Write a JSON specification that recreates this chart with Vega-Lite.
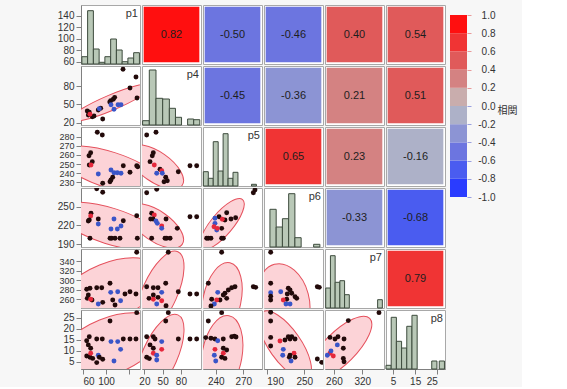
{
"$schema":"https://vega.github.io/schema/vega-lite/v6.json",
"background":"#f7f7f7",
"padding":{"left":56,"top":4,"right":5,"bottom":0},
"config":{
 "locale":{"number":{"decimal":".","thousands":",","grouping":[3],"currency":["$",""],"minus":"-"}},
 "view":{"stroke":"#a8a8a8","fill":"#ffffff"},
 "axis":{"labelFont":"Liberation Sans","labelFontSize":10,"labelColor":"#333333","tickColor":"#808080","domainColor":"#808080","grid":false,"tickSize":5,"labelPadding":2,"labelOverlap":false,"labelBound":false},
 "axisX":{"labelFlush":5}
},
"datasets":{
"corr":[{"r":"p1","c":"p4","v":0.82},{"r":"p1","c":"p5","v":-0.50},{"r":"p1","c":"p6","v":-0.46},{"r":"p1","c":"p7","v":0.40},{"r":"p1","c":"p8","v":0.54},{"r":"p4","c":"p5","v":-0.45},{"r":"p4","c":"p6","v":-0.36},{"r":"p4","c":"p7","v":0.21},{"r":"p4","c":"p8","v":0.51},{"r":"p5","c":"p6","v":0.65},{"r":"p5","c":"p7","v":0.23},{"r":"p5","c":"p8","v":-0.16},{"r":"p6","c":"p7","v":-0.33},{"r":"p6","c":"p8","v":-0.68},{"r":"p7","c":"p8","v":0.79}],
"leg":[{"lo":-1,"hi":-0.8,"m":-0.9},{"lo":-0.8,"hi":-0.6,"m":-0.7},{"lo":-0.6,"hi":-0.4,"m":-0.5},{"lo":-0.4,"hi":-0.2,"m":-0.3},{"lo":-0.2,"hi":0,"m":-0.1},{"lo":0,"hi":0.2,"m":0.1},{"lo":0.2,"hi":0.4,"m":0.3},{"lo":0.4,"hi":0.6,"m":0.5},{"lo":0.6,"hi":0.8,"m":0.7},{"lo":0.8,"hi":1,"m":0.9}],
"hist":[
{"v":"p1","b0":58,"b1":68,"n":7.3},{"v":"p1","b0":68,"b1":78,"n":53.3},{"v":"p1","b0":78,"b1":88,"n":15},{"v":"p1","b0":88,"b1":98,"n":1.7},{"v":"p1","b0":98,"b1":108,"n":7.3},{"v":"p1","b0":108,"b1":118,"n":25},{"v":"p1","b0":118,"b1":128,"n":14},{"v":"p1","b0":128,"b1":138,"n":2.3},{"v":"p1","b0":138,"b1":148,"n":6},{"v":"p1","b0":148,"b1":158,"n":11.3},
{"v":"p4","b0":17,"b1":28,"n":4.3},{"v":"p4","b0":28,"b1":39,"n":55},{"v":"p4","b0":39,"b1":50,"n":26.7},{"v":"p4","b0":50,"b1":61,"n":26},{"v":"p4","b0":61,"b1":71,"n":16.7},{"v":"p4","b0":71,"b1":81,"n":7.7},{"v":"p4","b0":91,"b1":101,"n":6},{"v":"p4","b0":101,"b1":111,"n":5.3},
{"v":"p5","b0":226.4,"b1":231.8,"n":14.3},{"v":"p5","b0":231.8,"b1":237.2,"n":7.7},{"v":"p5","b0":237.2,"b1":242.6,"n":44.3},{"v":"p5","b0":242.6,"b1":248,"n":15},{"v":"p5","b0":248,"b1":253.4,"n":52.3},{"v":"p5","b0":253.4,"b1":258.8,"n":7.7},{"v":"p5","b0":258.8,"b1":264.2,"n":13.7},{"v":"p5","b0":279,"b1":284.4,"n":1.7},
{"v":"p6","b0":195,"b1":205,"n":37.7},{"v":"p6","b0":205,"b1":215,"n":20},{"v":"p6","b0":215,"b1":225,"n":28.3},{"v":"p6","b0":225,"b1":235,"n":53.3},{"v":"p6","b0":235,"b1":245,"n":9.3},{"v":"p6","b0":265,"b1":275,"n":2.7},
{"v":"p7","b0":242.5,"b1":252.5,"n":20},{"v":"p7","b0":252.5,"b1":262.5,"n":52.3},{"v":"p7","b0":262.5,"b1":272.5,"n":25.7},{"v":"p7","b0":272.5,"b1":282.5,"n":27.3},{"v":"p7","b0":282.5,"b1":292.5,"n":13.3},{"v":"p7","b0":352.5,"b1":362.5,"n":8.3},
{"v":"p8","b0":1.8,"b1":4.15,"n":3.7},{"v":"p8","b0":4.15,"b1":6.5,"n":51.7},{"v":"p8","b0":6.5,"b1":8.85,"n":27.7},{"v":"p8","b0":8.85,"b1":11.2,"n":21},{"v":"p8","b0":11.2,"b1":13.55,"n":42.7},{"v":"p8","b0":13.55,"b1":15.9,"n":53.7},{"v":"p8","b0":22.5,"b1":24.85,"n":8},{"v":"p8","b0":25.9,"b1":28.25,"n":8}
],
"ell":[
{"r":"p4","c":"p1","x":108.6,"y":52.7},
{"r":"p5","c":"p1","x":106.9,"y":243.5},
{"r":"p5","c":"p4","x":39,"y":246.8},
{"r":"p6","c":"p1","x":106.9,"y":219.1},
{"r":"p6","c":"p4","x":39,"y":219.1},
{"r":"p6","c":"p5","x":246.8,"y":222.3},
{"r":"p7","c":"p1","x":106.9,"y":277},
{"r":"p7","c":"p4","x":45.6,"y":274.9},
{"r":"p7","c":"p5","x":246.8,"y":257.9},
{"r":"p7","c":"p6","x":217.5,"y":257.9},
{"r":"p8","c":"p1","x":106.9,"y":12.2},
{"r":"p8","c":"p4","x":45.6,"y":8.1},
{"r":"p8","c":"p5","x":246.8,"y":8.1},
{"r":"p8","c":"p6","x":219.1,"y":12.7},
{"r":"p8","c":"p7","x":272.8,"y":11.3}
],
"pts":[
{"r":"p4","c":"p1","x":129.5,"y":107.6,"g":"k"},{"r":"p4","c":"p1","x":152,"y":94.9,"g":"k"},{"r":"p4","c":"p1","x":141.6,"y":76.8,"g":"k"},{"r":"p4","c":"p1","x":153.8,"y":60.4,"g":"k"},{"r":"p4","c":"p1","x":108.1,"y":56,"g":"k"},{"r":"p4","c":"p1","x":112.6,"y":58.3,"g":"k"},{"r":"p4","c":"p1","x":115,"y":61.5,"g":"k"},{"r":"p4","c":"p1","x":106.5,"y":54,"g":"k"},{"r":"p4","c":"p1","x":108.6,"y":49.4,"g":"b"},{"r":"p4","c":"p1","x":113.8,"y":41.8,"g":"b"},{"r":"p4","c":"p1","x":120.8,"y":49.4,"g":"b"},{"r":"p4","c":"p1","x":126,"y":49.4,"g":"b"},{"r":"p4","c":"p1","x":86.5,"y":40.7,"g":"k"},{"r":"p4","c":"p1","x":90.7,"y":43.5,"g":"k"},{"r":"p4","c":"p1","x":88.3,"y":42.8,"g":"b"},{"r":"p4","c":"p1","x":67.4,"y":39,"g":"k"},{"r":"p4","c":"p1","x":70.9,"y":36.9,"g":"k"},{"r":"p4","c":"p1","x":69.2,"y":32.4,"g":"k"},{"r":"p4","c":"p1","x":76.1,"y":29.6,"g":"k"},{"r":"p4","c":"p1","x":79.1,"y":30.8,"g":"k"},{"r":"p4","c":"p1","x":72.1,"y":33.6,"g":"r"},{"r":"p4","c":"p1","x":94.2,"y":25.9,"g":"k"},
{"r":"p5","c":"p1","x":84.8,"y":284.7,"g":"k"},{"r":"p5","c":"p1","x":93.5,"y":281.8,"g":"k"},{"r":"p5","c":"p1","x":73.3,"y":262.4,"g":"k"},{"r":"p5","c":"p1","x":70.4,"y":259.1,"g":"k"},{"r":"p5","c":"p1","x":76.1,"y":252.6,"g":"k"},{"r":"p5","c":"p1","x":70.9,"y":249,"g":"k"},{"r":"p5","c":"p1","x":73.9,"y":249,"g":"r"},{"r":"p5","c":"p1","x":86.5,"y":239.1,"g":"b"},{"r":"p5","c":"p1","x":108.6,"y":243.5,"g":"b"},{"r":"p5","c":"p1","x":113.8,"y":240.5,"g":"b"},{"r":"p5","c":"p1","x":119.6,"y":240.5,"g":"b"},{"r":"p5","c":"p1","x":126,"y":239.9,"g":"b"},{"r":"p5","c":"p1","x":111.6,"y":235.5,"g":"k"},{"r":"p5","c":"p1","x":108.6,"y":232.6,"g":"k"},{"r":"p5","c":"p1","x":106.9,"y":230.7,"g":"k"},{"r":"p5","c":"p1","x":130,"y":248.2,"g":"k"},{"r":"p5","c":"p1","x":141.6,"y":241,"g":"k"},{"r":"p5","c":"p1","x":153.3,"y":248.2,"g":"k"},{"r":"p5","c":"p1","x":155,"y":247.1,"g":"k"},{"r":"p5","c":"p1","x":94.2,"y":229,"g":"k"},
{"r":"p5","c":"p4","x":23.7,"y":281.8,"g":"k"},{"r":"p5","c":"p4","x":39,"y":284.7,"g":"k"},{"r":"p5","c":"p4","x":34.6,"y":262.4,"g":"k"},{"r":"p5","c":"p4","x":32.9,"y":259.1,"g":"k"},{"r":"p5","c":"p4","x":29.2,"y":252.6,"g":"k"},{"r":"p5","c":"p4","x":36.2,"y":249,"g":"r"},{"r":"p5","c":"p4","x":45.6,"y":244.3,"g":"k"},{"r":"p5","c":"p4","x":48.4,"y":242.7,"g":"r"},{"r":"p5","c":"p4","x":49.4,"y":239.9,"g":"b"},{"r":"p5","c":"p4","x":40.2,"y":239.9,"g":"b"},{"r":"p5","c":"p4","x":55,"y":235.5,"g":"k"},{"r":"p5","c":"p4","x":57.6,"y":231.8,"g":"k"},{"r":"p5","c":"p4","x":52.2,"y":230.7,"g":"k"},{"r":"p5","c":"p4","x":75.7,"y":241.6,"g":"k"},{"r":"p5","c":"p4","x":94.9,"y":248.2,"g":"k"},{"r":"p5","c":"p4","x":105.9,"y":248.2,"g":"k"},
{"r":"p6","c":"p1","x":83.8,"y":278.9,"g":"k"},{"r":"p6","c":"p1","x":94.2,"y":273.1,"g":"k"},{"r":"p6","c":"p1","x":73.9,"y":239.5,"g":"k"},{"r":"p6","c":"p1","x":73.3,"y":235.1,"g":"r"},{"r":"p6","c":"p1","x":70.9,"y":228.7,"g":"k"},{"r":"p6","c":"p1","x":69.2,"y":227.1,"g":"k"},{"r":"p6","c":"p1","x":86.5,"y":230.3,"g":"k"},{"r":"p6","c":"p1","x":86.5,"y":222.3,"g":"b"},{"r":"p6","c":"p1","x":113.8,"y":230.3,"g":"b"},{"r":"p6","c":"p1","x":108.6,"y":214.3,"g":"b"},{"r":"p6","c":"p1","x":119.6,"y":214.3,"g":"b"},{"r":"p6","c":"p1","x":126,"y":219.1,"g":"b"},{"r":"p6","c":"p1","x":130,"y":227.6,"g":"k"},{"r":"p6","c":"p1","x":153.3,"y":235.6,"g":"k"},{"r":"p6","c":"p1","x":72.1,"y":199.4,"g":"k"},{"r":"p6","c":"p1","x":106.9,"y":199.4,"g":"k"},{"r":"p6","c":"p1","x":109.8,"y":199.4,"g":"k"},{"r":"p6","c":"p1","x":115.6,"y":199.4,"g":"k"},{"r":"p6","c":"p1","x":124.2,"y":199.4,"g":"k"},{"r":"p6","c":"p1","x":154.3,"y":199.4,"g":"k"},
{"r":"p6","c":"p4","x":23.7,"y":272.5,"g":"k"},{"r":"p6","c":"p4","x":40.2,"y":277.9,"g":"k"},{"r":"p6","c":"p4","x":31.9,"y":239.5,"g":"k"},{"r":"p6","c":"p4","x":36.2,"y":236.7,"g":"r"},{"r":"p6","c":"p4","x":30.3,"y":230.3,"g":"k"},{"r":"p6","c":"p4","x":34.1,"y":230.3,"g":"k"},{"r":"p6","c":"p4","x":39,"y":227.1,"g":"b"},{"r":"p6","c":"p4","x":41.2,"y":223.4,"g":"b"},{"r":"p6","c":"p4","x":48.4,"y":219.1,"g":"r"},{"r":"p6","c":"p4","x":48.4,"y":215.4,"g":"b"},{"r":"p6","c":"p4","x":55.5,"y":230.3,"g":"k"},{"r":"p6","c":"p4","x":74,"y":215.4,"g":"k"},{"r":"p6","c":"p4","x":94.9,"y":234,"g":"k"},{"r":"p6","c":"p4","x":105.9,"y":234,"g":"k"},{"r":"p6","c":"p4","x":31.9,"y":199.4,"g":"k"},{"r":"p6","c":"p4","x":53.8,"y":199.4,"g":"k"},{"r":"p6","c":"p4","x":56.6,"y":199.4,"g":"k"},{"r":"p6","c":"p4","x":62.2,"y":199.4,"g":"k"},
{"r":"p6","c":"p5","x":282.8,"y":276.8,"g":"k"},{"r":"p6","c":"p5","x":281,"y":272.5,"g":"k"},{"r":"p6","c":"p5","x":251.9,"y":240.4,"g":"k"},{"r":"p6","c":"p5","x":243.5,"y":234,"g":"k"},{"r":"p6","c":"p5","x":239.1,"y":231.5,"g":"b"},{"r":"p6","c":"p5","x":250,"y":228.7,"g":"k"},{"r":"p6","c":"p5","x":247.1,"y":229.9,"g":"r"},{"r":"p6","c":"p5","x":256.6,"y":230.3,"g":"k"},{"r":"p6","c":"p5","x":261.7,"y":232.4,"g":"k"},{"r":"p6","c":"p5","x":239.1,"y":223.4,"g":"b"},{"r":"p6","c":"p5","x":238,"y":218,"g":"r"},{"r":"p6","c":"p5","x":241,"y":212.7,"g":"b"},{"r":"p6","c":"p5","x":246.4,"y":215.4,"g":"k"},{"r":"p6","c":"p5","x":241.6,"y":215.4,"g":"r"},{"r":"p6","c":"p5","x":230,"y":199.4,"g":"k"},{"r":"p6","c":"p5","x":231.8,"y":199.4,"g":"k"},{"r":"p6","c":"p5","x":234.7,"y":199.4,"g":"k"},{"r":"p6","c":"p5","x":246.4,"y":199.4,"g":"k"},{"r":"p6","c":"p5","x":248.2,"y":199.4,"g":"k"},
{"r":"p7","c":"p1","x":153.3,"y":359,"g":"k"},{"r":"p7","c":"p1","x":106.9,"y":293.3,"g":"k"},{"r":"p7","c":"p1","x":72.1,"y":282.7,"g":"k"},{"r":"p7","c":"p1","x":66.4,"y":280.6,"g":"k"},{"r":"p7","c":"p1","x":83.8,"y":284,"g":"k"},{"r":"p7","c":"p1","x":92.5,"y":284,"g":"k"},{"r":"p7","c":"p1","x":69.2,"y":268.5,"g":"k"},{"r":"p7","c":"p1","x":108.1,"y":274.2,"g":"b"},{"r":"p7","c":"p1","x":120.3,"y":275.5,"g":"b"},{"r":"p7","c":"p1","x":132.9,"y":270.6,"g":"k"},{"r":"p7","c":"p1","x":141.6,"y":275.5,"g":"k"},{"r":"p7","c":"p1","x":152,"y":270.6,"g":"k"},{"r":"p7","c":"p1","x":67.4,"y":261.5,"g":"k"},{"r":"p7","c":"p1","x":75.6,"y":258,"g":"k"},{"r":"p7","c":"p1","x":73.3,"y":259.4,"g":"r"},{"r":"p7","c":"p1","x":125.3,"y":256.4,"g":"b"},{"r":"p7","c":"p1","x":94.2,"y":253,"g":"k"},{"r":"p7","c":"p1","x":111.6,"y":257.9,"g":"k"},{"r":"p7","c":"p1","x":86.5,"y":249.5,"g":"b"},{"r":"p7","c":"p1","x":115.6,"y":247.3,"g":"k"},
{"r":"p7","c":"p4","x":59.2,"y":359,"g":"k"},{"r":"p7","c":"p4","x":23.7,"y":286.1,"g":"k"},{"r":"p7","c":"p4","x":34.6,"y":284,"g":"k"},{"r":"p7","c":"p4","x":42.3,"y":284,"g":"k"},{"r":"p7","c":"p4","x":55,"y":293.3,"g":"k"},{"r":"p7","c":"p4","x":75.7,"y":275.5,"g":"k"},{"r":"p7","c":"p4","x":48.4,"y":274.2,"g":"b"},{"r":"p7","c":"p4","x":34.6,"y":268.5,"g":"k"},{"r":"p7","c":"p4","x":27.5,"y":261.5,"g":"k"},{"r":"p7","c":"p4","x":42.3,"y":263.6,"g":"k"},{"r":"p7","c":"p4","x":34.6,"y":259.4,"g":"r"},{"r":"p7","c":"p4","x":48.4,"y":256.4,"g":"r"},{"r":"p7","c":"p4","x":40.2,"y":249.5,"g":"b"},{"r":"p7","c":"p4","x":55.5,"y":245.8,"g":"k"},{"r":"p7","c":"p4","x":94.9,"y":270.6,"g":"k"},{"r":"p7","c":"p4","x":105.9,"y":270.6,"g":"k"},
{"r":"p7","c":"p5","x":246.4,"y":359,"g":"k"},{"r":"p7","c":"p5","x":231.8,"y":293.3,"g":"k"},{"r":"p7","c":"p5","x":242.1,"y":274.2,"g":"b"},{"r":"p7","c":"p5","x":257.4,"y":284,"g":"k"},{"r":"p7","c":"p5","x":261,"y":286.1,"g":"k"},{"r":"p7","c":"p5","x":253.7,"y":279.1,"g":"k"},{"r":"p7","c":"p5","x":250,"y":272.1,"g":"k"},{"r":"p7","c":"p5","x":248.2,"y":268.5,"g":"k"},{"r":"p7","c":"p5","x":251.9,"y":261.5,"g":"k"},{"r":"p7","c":"p5","x":235.5,"y":259.4,"g":"k"},{"r":"p7","c":"p5","x":244.6,"y":257.9,"g":"k"},{"r":"p7","c":"p5","x":241,"y":257.9,"g":"r"},{"r":"p7","c":"p5","x":238.4,"y":249.5,"g":"b"},{"r":"p7","c":"p5","x":281,"y":286.1,"g":"k"},{"r":"p7","c":"p5","x":283.6,"y":284.8,"g":"k"},{"r":"p7","c":"p5","x":234.7,"y":245.2,"g":"k"},
{"r":"p7","c":"p6","x":196.2,"y":359,"g":"k"},{"r":"p7","c":"p6","x":196.2,"y":293.3,"g":"k"},{"r":"p7","c":"p6","x":196.2,"y":273.4,"g":"b"},{"r":"p7","c":"p6","x":196.2,"y":266,"g":"k"},{"r":"p7","c":"p6","x":196.2,"y":257.9,"g":"k"},{"r":"p7","c":"p6","x":212.3,"y":275.5,"g":"b"},{"r":"p7","c":"p6","x":224.4,"y":282.7,"g":"k"},{"r":"p7","c":"p6","x":227.2,"y":279.1,"g":"k"},{"r":"p7","c":"p6","x":229.9,"y":272.1,"g":"k"},{"r":"p7","c":"p6","x":222.8,"y":270.6,"g":"k"},{"r":"p7","c":"p6","x":235.2,"y":264.9,"g":"k"},{"r":"p7","c":"p6","x":237.9,"y":261.5,"g":"k"},{"r":"p7","c":"p6","x":221.9,"y":259.4,"g":"k"},{"r":"p7","c":"p6","x":216.4,"y":257.9,"g":"r"},{"r":"p7","c":"p6","x":220.7,"y":249.5,"g":"b"},{"r":"p7","c":"p6","x":227.2,"y":249.5,"g":"b"},{"r":"p7","c":"p6","x":270.9,"y":286.1,"g":"k"},{"r":"p7","c":"p6","x":274.1,"y":284.8,"g":"k"},
{"r":"p8","c":"p1","x":153.3,"y":27.3,"g":"k"},{"r":"p8","c":"p1","x":106.9,"y":23.5,"g":"k"},{"r":"p8","c":"p1","x":70.9,"y":16.4,"g":"k"},{"r":"p8","c":"p1","x":66.4,"y":14.6,"g":"k"},{"r":"p8","c":"p1","x":69.2,"y":12.7,"g":"k"},{"r":"p8","c":"p1","x":83.8,"y":15.4,"g":"k"},{"r":"p8","c":"p1","x":93.5,"y":15.4,"g":"k"},{"r":"p8","c":"p1","x":108.6,"y":14.2,"g":"b"},{"r":"p8","c":"p1","x":120.3,"y":14.2,"g":"b"},{"r":"p8","c":"p1","x":130,"y":15.4,"g":"k"},{"r":"p8","c":"p1","x":141.6,"y":15.4,"g":"k"},{"r":"p8","c":"p1","x":152,"y":15.4,"g":"k"},{"r":"p8","c":"p1","x":73.3,"y":11.2,"g":"k"},{"r":"p8","c":"p1","x":125.3,"y":10.7,"g":"b"},{"r":"p8","c":"p1","x":66.4,"y":7.7,"g":"k"},{"r":"p8","c":"p1","x":72.1,"y":7.1,"g":"k"},{"r":"p8","c":"p1","x":76.8,"y":6.6,"g":"k"},{"r":"p8","c":"p1","x":73.3,"y":8.9,"g":"r"},{"r":"p8","c":"p1","x":86.5,"y":8,"g":"b"},{"r":"p8","c":"p1","x":88.3,"y":7.1,"g":"k"},{"r":"p8","c":"p1","x":94.2,"y":6.2,"g":"k"},{"r":"p8","c":"p1","x":113.8,"y":5.4,"g":"b"},{"r":"p8","c":"p1","x":83.8,"y":4.7,"g":"k"},
{"r":"p8","c":"p4","x":59.2,"y":27.3,"g":"k"},{"r":"p8","c":"p4","x":55,"y":23.5,"g":"k"},{"r":"p8","c":"p4","x":23.7,"y":16.4,"g":"k"},{"r":"p8","c":"p4","x":34.6,"y":16.4,"g":"k"},{"r":"p8","c":"p4","x":37.4,"y":15.4,"g":"k"},{"r":"p8","c":"p4","x":29.2,"y":12.7,"g":"k"},{"r":"p8","c":"p4","x":48.4,"y":14.2,"g":"b"},{"r":"p8","c":"p4","x":75.7,"y":15.4,"g":"k"},{"r":"p8","c":"p4","x":34.6,"y":11.2,"g":"k"},{"r":"p8","c":"p4","x":48.4,"y":10.7,"g":"r"},{"r":"p8","c":"p4","x":34.6,"y":8.9,"g":"r"},{"r":"p8","c":"p4","x":40.2,"y":8,"g":"b"},{"r":"p8","c":"p4","x":40.2,"y":5.9,"g":"b"},{"r":"p8","c":"p4","x":23.7,"y":7.1,"g":"k"},{"r":"p8","c":"p4","x":28,"y":6.5,"g":"k"},{"r":"p8","c":"p4","x":94.9,"y":15.4,"g":"k"},{"r":"p8","c":"p4","x":105.9,"y":15.4,"g":"k"},
{"r":"p8","c":"p5","x":246.4,"y":27.3,"g":"k"},{"r":"p8","c":"p5","x":231.8,"y":23.5,"g":"k"},{"r":"p8","c":"p5","x":229,"y":16,"g":"k"},{"r":"p8","c":"p5","x":234.7,"y":15.7,"g":"k"},{"r":"p8","c":"p5","x":239.1,"y":15.4,"g":"k"},{"r":"p8","c":"p5","x":242.1,"y":14.6,"g":"b"},{"r":"p8","c":"p5","x":248.2,"y":15.4,"g":"k"},{"r":"p8","c":"p5","x":257.4,"y":16.4,"g":"k"},{"r":"p8","c":"p5","x":260.2,"y":16.7,"g":"k"},{"r":"p8","c":"p5","x":262.1,"y":16.3,"g":"k"},{"r":"p8","c":"p5","x":248.2,"y":11.2,"g":"k"},{"r":"p8","c":"p5","x":251.9,"y":10.4,"g":"k"},{"r":"p8","c":"p5","x":239.1,"y":10.7,"g":"r"},{"r":"p8","c":"p5","x":248.2,"y":8.9,"g":"r"},{"r":"p8","c":"p5","x":238.4,"y":8,"g":"b"},{"r":"p8","c":"p5","x":246.4,"y":7.1,"g":"k"},{"r":"p8","c":"p5","x":250,"y":6.6,"g":"k"},{"r":"p8","c":"p5","x":239.9,"y":5.4,"g":"b"},
{"r":"p8","c":"p6","x":196.2,"y":27.5,"g":"k"},{"r":"p8","c":"p6","x":196.2,"y":23.5,"g":"k"},{"r":"p8","c":"p6","x":196.2,"y":16.1,"g":"k"},{"r":"p8","c":"p6","x":196.2,"y":12.2,"g":"k"},{"r":"p8","c":"p6","x":211.1,"y":14.5,"g":"r"},{"r":"p8","c":"p6","x":224.4,"y":16.4,"g":"k"},{"r":"p8","c":"p6","x":229.9,"y":16.4,"g":"k"},{"r":"p8","c":"p6","x":227.2,"y":15.4,"g":"k"},{"r":"p8","c":"p6","x":235.2,"y":15.4,"g":"k"},{"r":"p8","c":"p6","x":219.1,"y":14.9,"g":"k"},{"r":"p8","c":"p6","x":216.4,"y":10.7,"g":"b"},{"r":"p8","c":"p6","x":233.6,"y":8.9,"g":"r"},{"r":"p8","c":"p6","x":227.2,"y":8.1,"g":"k"},{"r":"p8","c":"p6","x":215.5,"y":8,"g":"b"},{"r":"p8","c":"p6","x":226.1,"y":7.1,"g":"k"},{"r":"p8","c":"p6","x":235.2,"y":7.1,"g":"k"},{"r":"p8","c":"p6","x":228.8,"y":5.4,"g":"b"},{"r":"p8","c":"p6","x":270.9,"y":6.3,"g":"k"},{"r":"p8","c":"p6","x":277.9,"y":4.8,"g":"k"},
{"r":"p8","c":"p7","x":355.4,"y":27.3,"g":"k"},{"r":"p8","c":"p7","x":290.4,"y":23.7,"g":"k"},{"r":"p8","c":"p7","x":251.6,"y":16.1,"g":"k"},{"r":"p8","c":"p7","x":262.2,"y":15.4,"g":"k"},{"r":"p8","c":"p7","x":281.3,"y":15.4,"g":"k"},{"r":"p8","c":"p7","x":268.5,"y":16.4,"g":"k"},{"r":"p8","c":"p7","x":267.1,"y":12.7,"g":"b"},{"r":"p8","c":"p7","x":279.8,"y":11.2,"g":"k"},{"r":"p8","c":"p7","x":251.6,"y":8.9,"g":"r"},{"r":"p8","c":"p7","x":258.6,"y":7.7,"g":"r"},{"r":"p8","c":"p7","x":245.9,"y":8,"g":"b"},{"r":"p8","c":"p7","x":253.7,"y":10,"g":"b"},{"r":"p8","c":"p7","x":279.8,"y":6.6,"g":"k"},{"r":"p8","c":"p7","x":281.3,"y":5.1,"g":"k"}
]
},
"spacing":4,
"hconcat":[
{"columns":6,"spacing":2,"bounds":"flush","concat":[
{"width":59,"height":59,"resolve":{"scale":{"y":"independent"}},"layer":[
 {"data":{"name":"hist"},"transform":[{"filter":"datum.v=='p1'"}],"mark":{"type":"rect","fill":"#b9c8b7","stroke":"#3d4b3d","strokeWidth":1},"encoding":{"x":{"field":"b0","type":"quantitative","scale":{"domain":[56.5,159],"nice":false,"zero":false},"axis":null},"x2":{"field":"b1"},"y":{"field":"n","type":"quantitative","scale":{"domain":[0,59]},"axis":null},"y2":{"datum":0}}},
 {"data":{"values":[{"name":"p1"}]},"mark":{"type":"text","align":"right","baseline":"top","dx":-2,"dy":3,"font":"Liberation Sans","fontSize":11,"color":"#333333"},"encoding":{"text":{"field":"name"},"x":{"datum":159,"type":"quantitative","axis":null},"y":{"datum":159,"type":"quantitative","scale":{"domain":[56.5,159],"nice":false,"zero":false},"axis":{"orient":"left","values":[60,80,100,120,140],"title":null}}}}
]},
{"width":59,"height":59,"data":{"name":"corr"},"transform":[{"filter":"datum.r=='p1'&&datum.c=='p4'"}],"encoding":{"x":{"field":"c","type":"nominal","axis":null,"scale":{"paddingInner":0,"paddingOuter":0.03}},"y":{"field":"r","type":"nominal","axis":null,"scale":{"paddingInner":0,"paddingOuter":0.03}}},"layer":[{"mark":{"type":"rect"},"encoding":{"fill":{"field":"v","type":"quantitative","scale":{"type":"threshold","domain":[-0.8,-0.6,-0.4,-0.2,0,0.2,0.4,0.6,0.8],"range":["#2a3cff","#4a5cf0","#6c75e0","#8c94d4","#adb1c8","#c9adad","#d48282","#e05a5a","#f03434","#ff0f0f"]},"legend":null}}},{"mark":{"type":"text","font":"Liberation Sans","fontSize":11,"color":"#1e1e1e"},"encoding":{"text":{"field":"v","type":"quantitative","format":".2f"}}}]},
{"width":59,"height":59,"data":{"name":"corr"},"transform":[{"filter":"datum.r=='p1'&&datum.c=='p5'"}],"encoding":{"x":{"field":"c","type":"nominal","axis":null,"scale":{"paddingInner":0,"paddingOuter":0.03}},"y":{"field":"r","type":"nominal","axis":null,"scale":{"paddingInner":0,"paddingOuter":0.03}}},"layer":[{"mark":{"type":"rect"},"encoding":{"fill":{"field":"v","type":"quantitative","scale":{"type":"threshold","domain":[-0.8,-0.6,-0.4,-0.2,0,0.2,0.4,0.6,0.8],"range":["#2a3cff","#4a5cf0","#6c75e0","#8c94d4","#adb1c8","#c9adad","#d48282","#e05a5a","#f03434","#ff0f0f"]},"legend":null}}},{"mark":{"type":"text","font":"Liberation Sans","fontSize":11,"color":"#1e1e1e"},"encoding":{"text":{"field":"v","type":"quantitative","format":".2f"}}}]},
{"width":59,"height":59,"data":{"name":"corr"},"transform":[{"filter":"datum.r=='p1'&&datum.c=='p6'"}],"encoding":{"x":{"field":"c","type":"nominal","axis":null,"scale":{"paddingInner":0,"paddingOuter":0.03}},"y":{"field":"r","type":"nominal","axis":null,"scale":{"paddingInner":0,"paddingOuter":0.03}}},"layer":[{"mark":{"type":"rect"},"encoding":{"fill":{"field":"v","type":"quantitative","scale":{"type":"threshold","domain":[-0.8,-0.6,-0.4,-0.2,0,0.2,0.4,0.6,0.8],"range":["#2a3cff","#4a5cf0","#6c75e0","#8c94d4","#adb1c8","#c9adad","#d48282","#e05a5a","#f03434","#ff0f0f"]},"legend":null}}},{"mark":{"type":"text","font":"Liberation Sans","fontSize":11,"color":"#1e1e1e"},"encoding":{"text":{"field":"v","type":"quantitative","format":".2f"}}}]},
{"width":59,"height":59,"data":{"name":"corr"},"transform":[{"filter":"datum.r=='p1'&&datum.c=='p7'"}],"encoding":{"x":{"field":"c","type":"nominal","axis":null,"scale":{"paddingInner":0,"paddingOuter":0.03}},"y":{"field":"r","type":"nominal","axis":null,"scale":{"paddingInner":0,"paddingOuter":0.03}}},"layer":[{"mark":{"type":"rect"},"encoding":{"fill":{"field":"v","type":"quantitative","scale":{"type":"threshold","domain":[-0.8,-0.6,-0.4,-0.2,0,0.2,0.4,0.6,0.8],"range":["#2a3cff","#4a5cf0","#6c75e0","#8c94d4","#adb1c8","#c9adad","#d48282","#e05a5a","#f03434","#ff0f0f"]},"legend":null}}},{"mark":{"type":"text","font":"Liberation Sans","fontSize":11,"color":"#1e1e1e"},"encoding":{"text":{"field":"v","type":"quantitative","format":".2f"}}}]},
{"width":59,"height":59,"data":{"name":"corr"},"transform":[{"filter":"datum.r=='p1'&&datum.c=='p8'"}],"encoding":{"x":{"field":"c","type":"nominal","axis":null,"scale":{"paddingInner":0,"paddingOuter":0.03}},"y":{"field":"r","type":"nominal","axis":null,"scale":{"paddingInner":0,"paddingOuter":0.03}}},"layer":[{"mark":{"type":"rect"},"encoding":{"fill":{"field":"v","type":"quantitative","scale":{"type":"threshold","domain":[-0.8,-0.6,-0.4,-0.2,0,0.2,0.4,0.6,0.8],"range":["#2a3cff","#4a5cf0","#6c75e0","#8c94d4","#adb1c8","#c9adad","#d48282","#e05a5a","#f03434","#ff0f0f"]},"legend":null}}},{"mark":{"type":"text","font":"Liberation Sans","fontSize":11,"color":"#1e1e1e"},"encoding":{"text":{"field":"v","type":"quantitative","format":".2f"}}}]},

{"width":59,"height":59,"layer":[
 {"data":{"name":"ell"},"transform":[{"filter":"datum.r=='p4'&&datum.c=='p1'"}],"mark":{"type":"point","shape":"M1 0C1 0.094 0.552 0.171 0 0.171C-0.552 0.171 -1 0.094 -1 0C-1 -0.094 -0.552 -0.171 0 -0.171C0.552 -0.171 1 -0.094 1 0Z","size":8100,"angle":-23,"filled":true,"fill":"#fcd3d7","stroke":"#e5505c","strokeWidth":1,"opacity":1,"clip":true},"encoding":{"x":{"field":"x","type":"quantitative","scale":{"domain":[56.5,159],"nice":false,"zero":false},"axis":null},"y":{"field":"y","type":"quantitative","scale":{"domain":[16,113],"nice":false,"zero":false},"axis":{"values":[20,50,80],"title":null}}}},
 {"data":{"name":"pts"},"transform":[{"filter":"datum.r=='p4'&&datum.c=='p1'"}],"mark":{"type":"circle","size":24,"opacity":1,"clip":true},"encoding":{"x":{"field":"x","type":"quantitative","axis":null},"y":{"field":"y","type":"quantitative","axis":{"values":[20,50,80],"title":null}},"color":{"field":"g","type":"nominal","scale":{"domain":["k","b","r"],"range":["#220a0a","#3a55c8","#e6283c"]},"legend":null}}}
]},
{"width":59,"height":59,"resolve":{"scale":{"y":"independent"}},"layer":[
 {"data":{"name":"hist"},"transform":[{"filter":"datum.v=='p4'"}],"mark":{"type":"rect","fill":"#b9c8b7","stroke":"#3d4b3d","strokeWidth":1},"encoding":{"x":{"field":"b0","type":"quantitative","scale":{"domain":[16,113],"nice":false,"zero":false},"axis":null},"x2":{"field":"b1"},"y":{"field":"n","type":"quantitative","scale":{"domain":[0,59]},"axis":null},"y2":{"datum":0}}},
 {"data":{"values":[{"name":"p4"}]},"mark":{"type":"text","align":"right","baseline":"top","dx":-2,"dy":3,"font":"Liberation Sans","fontSize":11,"color":"#333333"},"encoding":{"text":{"field":"name"},"x":{"datum":113,"type":"quantitative","axis":null},"y":{"datum":113,"type":"quantitative","scale":{"domain":[16,113],"nice":false,"zero":false},"axis":null}}}
]},
{"width":59,"height":59,"data":{"name":"corr"},"transform":[{"filter":"datum.r=='p4'&&datum.c=='p5'"}],"encoding":{"x":{"field":"c","type":"nominal","axis":null,"scale":{"paddingInner":0,"paddingOuter":0.03}},"y":{"field":"r","type":"nominal","axis":null,"scale":{"paddingInner":0,"paddingOuter":0.03}}},"layer":[{"mark":{"type":"rect"},"encoding":{"fill":{"field":"v","type":"quantitative","scale":{"type":"threshold","domain":[-0.8,-0.6,-0.4,-0.2,0,0.2,0.4,0.6,0.8],"range":["#2a3cff","#4a5cf0","#6c75e0","#8c94d4","#adb1c8","#c9adad","#d48282","#e05a5a","#f03434","#ff0f0f"]},"legend":null}}},{"mark":{"type":"text","font":"Liberation Sans","fontSize":11,"color":"#1e1e1e"},"encoding":{"text":{"field":"v","type":"quantitative","format":".2f"}}}]},
{"width":59,"height":59,"data":{"name":"corr"},"transform":[{"filter":"datum.r=='p4'&&datum.c=='p6'"}],"encoding":{"x":{"field":"c","type":"nominal","axis":null,"scale":{"paddingInner":0,"paddingOuter":0.03}},"y":{"field":"r","type":"nominal","axis":null,"scale":{"paddingInner":0,"paddingOuter":0.03}}},"layer":[{"mark":{"type":"rect"},"encoding":{"fill":{"field":"v","type":"quantitative","scale":{"type":"threshold","domain":[-0.8,-0.6,-0.4,-0.2,0,0.2,0.4,0.6,0.8],"range":["#2a3cff","#4a5cf0","#6c75e0","#8c94d4","#adb1c8","#c9adad","#d48282","#e05a5a","#f03434","#ff0f0f"]},"legend":null}}},{"mark":{"type":"text","font":"Liberation Sans","fontSize":11,"color":"#1e1e1e"},"encoding":{"text":{"field":"v","type":"quantitative","format":".2f"}}}]},
{"width":59,"height":59,"data":{"name":"corr"},"transform":[{"filter":"datum.r=='p4'&&datum.c=='p7'"}],"encoding":{"x":{"field":"c","type":"nominal","axis":null,"scale":{"paddingInner":0,"paddingOuter":0.03}},"y":{"field":"r","type":"nominal","axis":null,"scale":{"paddingInner":0,"paddingOuter":0.03}}},"layer":[{"mark":{"type":"rect"},"encoding":{"fill":{"field":"v","type":"quantitative","scale":{"type":"threshold","domain":[-0.8,-0.6,-0.4,-0.2,0,0.2,0.4,0.6,0.8],"range":["#2a3cff","#4a5cf0","#6c75e0","#8c94d4","#adb1c8","#c9adad","#d48282","#e05a5a","#f03434","#ff0f0f"]},"legend":null}}},{"mark":{"type":"text","font":"Liberation Sans","fontSize":11,"color":"#1e1e1e"},"encoding":{"text":{"field":"v","type":"quantitative","format":".2f"}}}]},
{"width":59,"height":59,"data":{"name":"corr"},"transform":[{"filter":"datum.r=='p4'&&datum.c=='p8'"}],"encoding":{"x":{"field":"c","type":"nominal","axis":null,"scale":{"paddingInner":0,"paddingOuter":0.03}},"y":{"field":"r","type":"nominal","axis":null,"scale":{"paddingInner":0,"paddingOuter":0.03}}},"layer":[{"mark":{"type":"rect"},"encoding":{"fill":{"field":"v","type":"quantitative","scale":{"type":"threshold","domain":[-0.8,-0.6,-0.4,-0.2,0,0.2,0.4,0.6,0.8],"range":["#2a3cff","#4a5cf0","#6c75e0","#8c94d4","#adb1c8","#c9adad","#d48282","#e05a5a","#f03434","#ff0f0f"]},"legend":null}}},{"mark":{"type":"text","font":"Liberation Sans","fontSize":11,"color":"#1e1e1e"},"encoding":{"text":{"field":"v","type":"quantitative","format":".2f"}}}]},

{"width":59,"height":59,"layer":[
 {"data":{"name":"ell"},"transform":[{"filter":"datum.r=='p5'&&datum.c=='p1'"}],"mark":{"type":"point","shape":"M1 0C1 0.181 0.552 0.327 0 0.327C-0.552 0.327 -1 0.181 -1 0C-1 -0.181 -0.552 -0.327 0 -0.327C0.552 -0.327 1 -0.181 1 0Z","size":12100,"angle":18,"filled":true,"fill":"#fcd3d7","stroke":"#e5505c","strokeWidth":1,"opacity":1,"clip":true},"encoding":{"x":{"field":"x","type":"quantitative","scale":{"domain":[56.5,159],"nice":false,"zero":false},"axis":null},"y":{"field":"y","type":"quantitative","scale":{"domain":[226,290.5],"nice":false,"zero":false},"axis":{"values":[230,240,250,260,270,280],"labelFontSize":9,"title":null}}}},
 {"data":{"name":"pts"},"transform":[{"filter":"datum.r=='p5'&&datum.c=='p1'"}],"mark":{"type":"circle","size":24,"opacity":1,"clip":true},"encoding":{"x":{"field":"x","type":"quantitative","axis":null},"y":{"field":"y","type":"quantitative","axis":{"values":[230,240,250,260,270,280],"labelFontSize":9,"title":null}},"color":{"field":"g","type":"nominal","scale":{"domain":["k","b","r"],"range":["#220a0a","#3a55c8","#e6283c"]},"legend":null}}}
]},
{"width":59,"height":59,"layer":[
 {"data":{"name":"ell"},"transform":[{"filter":"datum.r=='p5'&&datum.c=='p4'"}],"mark":{"type":"point","shape":"M1 0C1 0.259 0.552 0.469 0 0.469C-0.552 0.469 -1 0.259 -1 0C-1 -0.259 -0.552 -0.469 0 -0.469C0.552 -0.469 1 -0.259 1 0Z","size":4096,"angle":35,"filled":true,"fill":"#fcd3d7","stroke":"#e5505c","strokeWidth":1,"opacity":1,"clip":true},"encoding":{"x":{"field":"x","type":"quantitative","scale":{"domain":[16,113],"nice":false,"zero":false},"axis":null},"y":{"field":"y","type":"quantitative","scale":{"domain":[226,290.5],"nice":false,"zero":false},"axis":null}}},
 {"data":{"name":"pts"},"transform":[{"filter":"datum.r=='p5'&&datum.c=='p4'"}],"mark":{"type":"circle","size":24,"opacity":1,"clip":true},"encoding":{"x":{"field":"x","type":"quantitative","axis":null},"y":{"field":"y","type":"quantitative","axis":null},"color":{"field":"g","type":"nominal","scale":{"domain":["k","b","r"],"range":["#220a0a","#3a55c8","#e6283c"]},"legend":null}}}
]},
{"width":59,"height":59,"resolve":{"scale":{"y":"independent"}},"layer":[
 {"data":{"name":"hist"},"transform":[{"filter":"datum.v=='p5'"}],"mark":{"type":"rect","fill":"#b9c8b7","stroke":"#3d4b3d","strokeWidth":1},"encoding":{"x":{"field":"b0","type":"quantitative","scale":{"domain":[226,290.5],"nice":false,"zero":false},"axis":null},"x2":{"field":"b1"},"y":{"field":"n","type":"quantitative","scale":{"domain":[0,59]},"axis":null},"y2":{"datum":0}}},
 {"data":{"values":[{"name":"p5"}]},"mark":{"type":"text","align":"right","baseline":"top","dx":-2,"dy":3,"font":"Liberation Sans","fontSize":11,"color":"#333333"},"encoding":{"text":{"field":"name"},"x":{"datum":290.5,"type":"quantitative","axis":null},"y":{"datum":290.5,"type":"quantitative","scale":{"domain":[226,290.5],"nice":false,"zero":false},"axis":null}}}
]},
{"width":59,"height":59,"data":{"name":"corr"},"transform":[{"filter":"datum.r=='p5'&&datum.c=='p6'"}],"encoding":{"x":{"field":"c","type":"nominal","axis":null,"scale":{"paddingInner":0,"paddingOuter":0.03}},"y":{"field":"r","type":"nominal","axis":null,"scale":{"paddingInner":0,"paddingOuter":0.03}}},"layer":[{"mark":{"type":"rect"},"encoding":{"fill":{"field":"v","type":"quantitative","scale":{"type":"threshold","domain":[-0.8,-0.6,-0.4,-0.2,0,0.2,0.4,0.6,0.8],"range":["#2a3cff","#4a5cf0","#6c75e0","#8c94d4","#adb1c8","#c9adad","#d48282","#e05a5a","#f03434","#ff0f0f"]},"legend":null}}},{"mark":{"type":"text","font":"Liberation Sans","fontSize":11,"color":"#1e1e1e"},"encoding":{"text":{"field":"v","type":"quantitative","format":".2f"}}}]},
{"width":59,"height":59,"data":{"name":"corr"},"transform":[{"filter":"datum.r=='p5'&&datum.c=='p7'"}],"encoding":{"x":{"field":"c","type":"nominal","axis":null,"scale":{"paddingInner":0,"paddingOuter":0.03}},"y":{"field":"r","type":"nominal","axis":null,"scale":{"paddingInner":0,"paddingOuter":0.03}}},"layer":[{"mark":{"type":"rect"},"encoding":{"fill":{"field":"v","type":"quantitative","scale":{"type":"threshold","domain":[-0.8,-0.6,-0.4,-0.2,0,0.2,0.4,0.6,0.8],"range":["#2a3cff","#4a5cf0","#6c75e0","#8c94d4","#adb1c8","#c9adad","#d48282","#e05a5a","#f03434","#ff0f0f"]},"legend":null}}},{"mark":{"type":"text","font":"Liberation Sans","fontSize":11,"color":"#1e1e1e"},"encoding":{"text":{"field":"v","type":"quantitative","format":".2f"}}}]},
{"width":59,"height":59,"data":{"name":"corr"},"transform":[{"filter":"datum.r=='p5'&&datum.c=='p8'"}],"encoding":{"x":{"field":"c","type":"nominal","axis":null,"scale":{"paddingInner":0,"paddingOuter":0.03}},"y":{"field":"r","type":"nominal","axis":null,"scale":{"paddingInner":0,"paddingOuter":0.03}}},"layer":[{"mark":{"type":"rect"},"encoding":{"fill":{"field":"v","type":"quantitative","scale":{"type":"threshold","domain":[-0.8,-0.6,-0.4,-0.2,0,0.2,0.4,0.6,0.8],"range":["#2a3cff","#4a5cf0","#6c75e0","#8c94d4","#adb1c8","#c9adad","#d48282","#e05a5a","#f03434","#ff0f0f"]},"legend":null}}},{"mark":{"type":"text","font":"Liberation Sans","fontSize":11,"color":"#1e1e1e"},"encoding":{"text":{"field":"v","type":"quantitative","format":".2f"}}}]},

{"width":59,"height":59,"layer":[
 {"data":{"name":"ell"},"transform":[{"filter":"datum.r=='p6'&&datum.c=='p1'"}],"mark":{"type":"point","shape":"M1 0C1 0.181 0.552 0.327 0 0.327C-0.552 0.327 -1 0.181 -1 0C-1 -0.181 -0.552 -0.327 0 -0.327C0.552 -0.327 1 -0.181 1 0Z","size":12100,"angle":17.6,"filled":true,"fill":"#fcd3d7","stroke":"#e5505c","strokeWidth":1,"opacity":1,"clip":true},"encoding":{"x":{"field":"x","type":"quantitative","scale":{"domain":[56.5,159],"nice":false,"zero":false},"axis":null},"y":{"field":"y","type":"quantitative","scale":{"domain":[185.5,280],"nice":false,"zero":false},"axis":{"values":[190,220,250],"title":null}}}},
 {"data":{"name":"pts"},"transform":[{"filter":"datum.r=='p6'&&datum.c=='p1'"}],"mark":{"type":"circle","size":24,"opacity":1,"clip":true},"encoding":{"x":{"field":"x","type":"quantitative","axis":null},"y":{"field":"y","type":"quantitative","axis":{"values":[190,220,250],"title":null}},"color":{"field":"g","type":"nominal","scale":{"domain":["k","b","r"],"range":["#220a0a","#3a55c8","#e6283c"]},"legend":null}}}
]},
{"width":59,"height":59,"layer":[
 {"data":{"name":"ell"},"transform":[{"filter":"datum.r=='p6'&&datum.c=='p4'"}],"mark":{"type":"point","shape":"M1 0C1 0.259 0.552 0.469 0 0.469C-0.552 0.469 -1 0.259 -1 0C-1 -0.259 -0.552 -0.469 0 -0.469C0.552 -0.469 1 -0.259 1 0Z","size":4096,"angle":35,"filled":true,"fill":"#fcd3d7","stroke":"#e5505c","strokeWidth":1,"opacity":1,"clip":true},"encoding":{"x":{"field":"x","type":"quantitative","scale":{"domain":[16,113],"nice":false,"zero":false},"axis":null},"y":{"field":"y","type":"quantitative","scale":{"domain":[185.5,280],"nice":false,"zero":false},"axis":null}}},
 {"data":{"name":"pts"},"transform":[{"filter":"datum.r=='p6'&&datum.c=='p4'"}],"mark":{"type":"circle","size":24,"opacity":1,"clip":true},"encoding":{"x":{"field":"x","type":"quantitative","axis":null},"y":{"field":"y","type":"quantitative","axis":null},"color":{"field":"g","type":"nominal","scale":{"domain":["k","b","r"],"range":["#220a0a","#3a55c8","#e6283c"]},"legend":null}}}
]},
{"width":59,"height":59,"layer":[
 {"data":{"name":"ell"},"transform":[{"filter":"datum.r=='p6'&&datum.c=='p5'"}],"mark":{"type":"point","shape":"M1 0C1 0.19 0.552 0.344 0 0.344C-0.552 0.344 -1 0.19 -1 0C-1 -0.19 -0.552 -0.344 0 -0.344C0.552 -0.344 1 -0.19 1 0Z","size":4096,"angle":-50,"filled":true,"fill":"#fcd3d7","stroke":"#e5505c","strokeWidth":1,"opacity":1,"clip":true},"encoding":{"x":{"field":"x","type":"quantitative","scale":{"domain":[226,290.5],"nice":false,"zero":false},"axis":null},"y":{"field":"y","type":"quantitative","scale":{"domain":[185.5,280],"nice":false,"zero":false},"axis":null}}},
 {"data":{"name":"pts"},"transform":[{"filter":"datum.r=='p6'&&datum.c=='p5'"}],"mark":{"type":"circle","size":24,"opacity":1,"clip":true},"encoding":{"x":{"field":"x","type":"quantitative","axis":null},"y":{"field":"y","type":"quantitative","axis":null},"color":{"field":"g","type":"nominal","scale":{"domain":["k","b","r"],"range":["#220a0a","#3a55c8","#e6283c"]},"legend":null}}}
]},
{"width":59,"height":59,"resolve":{"scale":{"y":"independent"}},"layer":[
 {"data":{"name":"hist"},"transform":[{"filter":"datum.v=='p6'"}],"mark":{"type":"rect","fill":"#b9c8b7","stroke":"#3d4b3d","strokeWidth":1},"encoding":{"x":{"field":"b0","type":"quantitative","scale":{"domain":[185.5,280],"nice":false,"zero":false},"axis":null},"x2":{"field":"b1"},"y":{"field":"n","type":"quantitative","scale":{"domain":[0,59]},"axis":null},"y2":{"datum":0}}},
 {"data":{"values":[{"name":"p6"}]},"mark":{"type":"text","align":"right","baseline":"top","dx":-2,"dy":3,"font":"Liberation Sans","fontSize":11,"color":"#333333"},"encoding":{"text":{"field":"name"},"x":{"datum":280,"type":"quantitative","axis":null},"y":{"datum":280,"type":"quantitative","scale":{"domain":[185.5,280],"nice":false,"zero":false},"axis":null}}}
]},
{"width":59,"height":59,"data":{"name":"corr"},"transform":[{"filter":"datum.r=='p6'&&datum.c=='p7'"}],"encoding":{"x":{"field":"c","type":"nominal","axis":null,"scale":{"paddingInner":0,"paddingOuter":0.03}},"y":{"field":"r","type":"nominal","axis":null,"scale":{"paddingInner":0,"paddingOuter":0.03}}},"layer":[{"mark":{"type":"rect"},"encoding":{"fill":{"field":"v","type":"quantitative","scale":{"type":"threshold","domain":[-0.8,-0.6,-0.4,-0.2,0,0.2,0.4,0.6,0.8],"range":["#2a3cff","#4a5cf0","#6c75e0","#8c94d4","#adb1c8","#c9adad","#d48282","#e05a5a","#f03434","#ff0f0f"]},"legend":null}}},{"mark":{"type":"text","font":"Liberation Sans","fontSize":11,"color":"#1e1e1e"},"encoding":{"text":{"field":"v","type":"quantitative","format":".2f"}}}]},
{"width":59,"height":59,"data":{"name":"corr"},"transform":[{"filter":"datum.r=='p6'&&datum.c=='p8'"}],"encoding":{"x":{"field":"c","type":"nominal","axis":null,"scale":{"paddingInner":0,"paddingOuter":0.03}},"y":{"field":"r","type":"nominal","axis":null,"scale":{"paddingInner":0,"paddingOuter":0.03}}},"layer":[{"mark":{"type":"rect"},"encoding":{"fill":{"field":"v","type":"quantitative","scale":{"type":"threshold","domain":[-0.8,-0.6,-0.4,-0.2,0,0.2,0.4,0.6,0.8],"range":["#2a3cff","#4a5cf0","#6c75e0","#8c94d4","#adb1c8","#c9adad","#d48282","#e05a5a","#f03434","#ff0f0f"]},"legend":null}}},{"mark":{"type":"text","font":"Liberation Sans","fontSize":11,"color":"#1e1e1e"},"encoding":{"text":{"field":"v","type":"quantitative","format":".2f"}}}]},

{"width":59,"height":59,"layer":[
 {"data":{"name":"ell"},"transform":[{"filter":"datum.r=='p7'&&datum.c=='p1'"}],"mark":{"type":"point","shape":"M1 0C1 0.281 0.552 0.509 0 0.509C-0.552 0.509 -1 0.281 -1 0C-1 -0.281 -0.552 -0.509 0 -0.509C0.552 -0.509 1 -0.281 1 0Z","size":12100,"angle":-22,"filled":true,"fill":"#fcd3d7","stroke":"#e5505c","strokeWidth":1,"opacity":1,"clip":true},"encoding":{"x":{"field":"x","type":"quantitative","scale":{"domain":[56.5,159],"nice":false,"zero":false},"axis":null},"y":{"field":"y","type":"quantitative","scale":{"domain":[241,366],"nice":false,"zero":false},"axis":{"values":[260,280,300,320,340],"labelFontSize":9,"title":null}}}},
 {"data":{"name":"pts"},"transform":[{"filter":"datum.r=='p7'&&datum.c=='p1'"}],"mark":{"type":"circle","size":24,"opacity":1,"clip":true},"encoding":{"x":{"field":"x","type":"quantitative","axis":null},"y":{"field":"y","type":"quantitative","axis":{"values":[260,280,300,320,340],"labelFontSize":9,"title":null}},"color":{"field":"g","type":"nominal","scale":{"domain":["k","b","r"],"range":["#220a0a","#3a55c8","#e6283c"]},"legend":null}}}
]},
{"width":59,"height":59,"layer":[
 {"data":{"name":"ell"},"transform":[{"filter":"datum.r=='p7'&&datum.c=='p4'"}],"mark":{"type":"point","shape":"M1 0C1 0.22 0.552 0.398 0 0.398C-0.552 0.398 -1 0.22 -1 0C-1 -0.22 -0.552 -0.398 0 -0.398C0.552 -0.398 1 -0.22 1 0Z","size":7744,"angle":-66,"filled":true,"fill":"#fcd3d7","stroke":"#e5505c","strokeWidth":1,"opacity":1,"clip":true},"encoding":{"x":{"field":"x","type":"quantitative","scale":{"domain":[16,113],"nice":false,"zero":false},"axis":null},"y":{"field":"y","type":"quantitative","scale":{"domain":[241,366],"nice":false,"zero":false},"axis":null}}},
 {"data":{"name":"pts"},"transform":[{"filter":"datum.r=='p7'&&datum.c=='p4'"}],"mark":{"type":"circle","size":24,"opacity":1,"clip":true},"encoding":{"x":{"field":"x","type":"quantitative","axis":null},"y":{"field":"y","type":"quantitative","axis":null},"color":{"field":"g","type":"nominal","scale":{"domain":["k","b","r"],"range":["#220a0a","#3a55c8","#e6283c"]},"legend":null}}}
]},
{"width":59,"height":59,"layer":[
 {"data":{"name":"ell"},"transform":[{"filter":"datum.r=='p7'&&datum.c=='p5'"}],"mark":{"type":"point","shape":"M1 0C1 0.276 0.552 0.5 0 0.5C-0.552 0.5 -1 0.276 -1 0C-1 -0.276 -0.552 -0.5 0 -0.5C0.552 -0.5 1 -0.276 1 0Z","size":5776,"angle":-78,"filled":true,"fill":"#fcd3d7","stroke":"#e5505c","strokeWidth":1,"opacity":1,"clip":true},"encoding":{"x":{"field":"x","type":"quantitative","scale":{"domain":[226,290.5],"nice":false,"zero":false},"axis":null},"y":{"field":"y","type":"quantitative","scale":{"domain":[241,366],"nice":false,"zero":false},"axis":null}}},
 {"data":{"name":"pts"},"transform":[{"filter":"datum.r=='p7'&&datum.c=='p5'"}],"mark":{"type":"circle","size":24,"opacity":1,"clip":true},"encoding":{"x":{"field":"x","type":"quantitative","axis":null},"y":{"field":"y","type":"quantitative","axis":null},"color":{"field":"g","type":"nominal","scale":{"domain":["k","b","r"],"range":["#220a0a","#3a55c8","#e6283c"]},"legend":null}}}
]},
{"width":59,"height":59,"layer":[
 {"data":{"name":"ell"},"transform":[{"filter":"datum.r=='p7'&&datum.c=='p6'"}],"mark":{"type":"point","shape":"M1 0C1 0.373 0.552 0.676 0 0.676C-0.552 0.676 -1 0.373 -1 0C-1 -0.373 -0.552 -0.676 0 -0.676C0.552 -0.676 1 -0.373 1 0Z","size":5476,"angle":75,"filled":true,"fill":"#fcd3d7","stroke":"#e5505c","strokeWidth":1,"opacity":1,"clip":true},"encoding":{"x":{"field":"x","type":"quantitative","scale":{"domain":[185.5,280],"nice":false,"zero":false},"axis":null},"y":{"field":"y","type":"quantitative","scale":{"domain":[241,366],"nice":false,"zero":false},"axis":null}}},
 {"data":{"name":"pts"},"transform":[{"filter":"datum.r=='p7'&&datum.c=='p6'"}],"mark":{"type":"circle","size":24,"opacity":1,"clip":true},"encoding":{"x":{"field":"x","type":"quantitative","axis":null},"y":{"field":"y","type":"quantitative","axis":null},"color":{"field":"g","type":"nominal","scale":{"domain":["k","b","r"],"range":["#220a0a","#3a55c8","#e6283c"]},"legend":null}}}
]},
{"width":59,"height":59,"resolve":{"scale":{"y":"independent"}},"layer":[
 {"data":{"name":"hist"},"transform":[{"filter":"datum.v=='p7'"}],"mark":{"type":"rect","fill":"#b9c8b7","stroke":"#3d4b3d","strokeWidth":1},"encoding":{"x":{"field":"b0","type":"quantitative","scale":{"domain":[241,366],"nice":false,"zero":false},"axis":null},"x2":{"field":"b1"},"y":{"field":"n","type":"quantitative","scale":{"domain":[0,59]},"axis":null},"y2":{"datum":0}}},
 {"data":{"values":[{"name":"p7"}]},"mark":{"type":"text","align":"right","baseline":"top","dx":-2,"dy":3,"font":"Liberation Sans","fontSize":11,"color":"#333333"},"encoding":{"text":{"field":"name"},"x":{"datum":366,"type":"quantitative","axis":null},"y":{"datum":366,"type":"quantitative","scale":{"domain":[241,366],"nice":false,"zero":false},"axis":null}}}
]},
{"width":59,"height":59,"data":{"name":"corr"},"transform":[{"filter":"datum.r=='p7'&&datum.c=='p8'"}],"encoding":{"x":{"field":"c","type":"nominal","axis":null,"scale":{"paddingInner":0,"paddingOuter":0.03}},"y":{"field":"r","type":"nominal","axis":null,"scale":{"paddingInner":0,"paddingOuter":0.03}}},"layer":[{"mark":{"type":"rect"},"encoding":{"fill":{"field":"v","type":"quantitative","scale":{"type":"threshold","domain":[-0.8,-0.6,-0.4,-0.2,0,0.2,0.4,0.6,0.8],"range":["#2a3cff","#4a5cf0","#6c75e0","#8c94d4","#adb1c8","#c9adad","#d48282","#e05a5a","#f03434","#ff0f0f"]},"legend":null}}},{"mark":{"type":"text","font":"Liberation Sans","fontSize":11,"color":"#1e1e1e"},"encoding":{"text":{"field":"v","type":"quantitative","format":".2f"}}}]},

{"width":59,"height":59,"layer":[
 {"data":{"name":"ell"},"transform":[{"filter":"datum.r=='p8'&&datum.c=='p1'"}],"mark":{"type":"point","shape":"M1 0C1 0.281 0.552 0.509 0 0.509C-0.552 0.509 -1 0.281 -1 0C-1 -0.281 -0.552 -0.509 0 -0.509C0.552 -0.509 1 -0.281 1 0Z","size":12100,"angle":-22,"filled":true,"fill":"#fcd3d7","stroke":"#e5505c","strokeWidth":1,"opacity":1,"clip":true},"encoding":{"x":{"field":"x","type":"quantitative","scale":{"domain":[56.5,159],"nice":false,"zero":false},"axis":{"values":[60,100,140],"labelExpr":"datum.value==140?'':datum.label","title":null}},"y":{"field":"y","type":"quantitative","scale":{"domain":[1.8,28.5],"nice":false,"zero":false},"axis":{"values":[5,10,15,20,25],"title":null}}}},
 {"data":{"name":"pts"},"transform":[{"filter":"datum.r=='p8'&&datum.c=='p1'"}],"mark":{"type":"circle","size":24,"opacity":1,"clip":true},"encoding":{"x":{"field":"x","type":"quantitative","axis":{"values":[60,100,140],"labelExpr":"datum.value==140?'':datum.label","title":null}},"y":{"field":"y","type":"quantitative","axis":{"values":[5,10,15,20,25],"title":null}},"color":{"field":"g","type":"nominal","scale":{"domain":["k","b","r"],"range":["#220a0a","#3a55c8","#e6283c"]},"legend":null}}}
]},
{"width":59,"height":59,"layer":[
 {"data":{"name":"ell"},"transform":[{"filter":"datum.r=='p8'&&datum.c=='p4'"}],"mark":{"type":"point","shape":"M1 0C1 0.22 0.552 0.398 0 0.398C-0.552 0.398 -1 0.22 -1 0C-1 -0.22 -0.552 -0.398 0 -0.398C0.552 -0.398 1 -0.22 1 0Z","size":7744,"angle":-66,"filled":true,"fill":"#fcd3d7","stroke":"#e5505c","strokeWidth":1,"opacity":1,"clip":true},"encoding":{"x":{"field":"x","type":"quantitative","scale":{"domain":[16,113],"nice":false,"zero":false},"axis":{"values":[20,50,80],"labelFlush":false,"title":null}},"y":{"field":"y","type":"quantitative","scale":{"domain":[1.8,28.5],"nice":false,"zero":false},"axis":null}}},
 {"data":{"name":"pts"},"transform":[{"filter":"datum.r=='p8'&&datum.c=='p4'"}],"mark":{"type":"circle","size":24,"opacity":1,"clip":true},"encoding":{"x":{"field":"x","type":"quantitative","axis":{"values":[20,50,80],"labelFlush":false,"title":null}},"y":{"field":"y","type":"quantitative","axis":null},"color":{"field":"g","type":"nominal","scale":{"domain":["k","b","r"],"range":["#220a0a","#3a55c8","#e6283c"]},"legend":null}}}
]},
{"width":59,"height":59,"layer":[
 {"data":{"name":"ell"},"transform":[{"filter":"datum.r=='p8'&&datum.c=='p5'"}],"mark":{"type":"point","shape":"M1 0C1 0.276 0.552 0.5 0 0.5C-0.552 0.5 -1 0.276 -1 0C-1 -0.276 -0.552 -0.5 0 -0.5C0.552 -0.5 1 -0.276 1 0Z","size":6400,"angle":-80,"filled":true,"fill":"#fcd3d7","stroke":"#e5505c","strokeWidth":1,"opacity":1,"clip":true},"encoding":{"x":{"field":"x","type":"quantitative","scale":{"domain":[226,290.5],"nice":false,"zero":false},"axis":{"values":[240,270],"title":null}},"y":{"field":"y","type":"quantitative","scale":{"domain":[1.8,28.5],"nice":false,"zero":false},"axis":null}}},
 {"data":{"name":"pts"},"transform":[{"filter":"datum.r=='p8'&&datum.c=='p5'"}],"mark":{"type":"circle","size":24,"opacity":1,"clip":true},"encoding":{"x":{"field":"x","type":"quantitative","axis":{"values":[240,270],"title":null}},"y":{"field":"y","type":"quantitative","axis":null},"color":{"field":"g","type":"nominal","scale":{"domain":["k","b","r"],"range":["#220a0a","#3a55c8","#e6283c"]},"legend":null}}}
]},
{"width":59,"height":59,"layer":[
 {"data":{"name":"ell"},"transform":[{"filter":"datum.r=='p8'&&datum.c=='p6'"}],"mark":{"type":"point","shape":"M1 0C1 0.221 0.552 0.4 0 0.4C-0.552 0.4 -1 0.221 -1 0C-1 -0.221 -0.552 -0.4 0 -0.4C0.552 -0.4 1 -0.221 1 0Z","size":6400,"angle":55,"filled":true,"fill":"#fcd3d7","stroke":"#e5505c","strokeWidth":1,"opacity":1,"clip":true},"encoding":{"x":{"field":"x","type":"quantitative","scale":{"domain":[185.5,280],"nice":false,"zero":false},"axis":{"values":[190,250],"title":null}},"y":{"field":"y","type":"quantitative","scale":{"domain":[1.8,28.5],"nice":false,"zero":false},"axis":null}}},
 {"data":{"name":"pts"},"transform":[{"filter":"datum.r=='p8'&&datum.c=='p6'"}],"mark":{"type":"circle","size":24,"opacity":1,"clip":true},"encoding":{"x":{"field":"x","type":"quantitative","axis":{"values":[190,250],"title":null}},"y":{"field":"y","type":"quantitative","axis":null},"color":{"field":"g","type":"nominal","scale":{"domain":["k","b","r"],"range":["#220a0a","#3a55c8","#e6283c"]},"legend":null}}}
]},
{"width":59,"height":59,"layer":[
 {"data":{"name":"ell"},"transform":[{"filter":"datum.r=='p8'&&datum.c=='p7'"}],"mark":{"type":"point","shape":"M1 0C1 0.21 0.552 0.381 0 0.381C-0.552 0.381 -1 0.21 -1 0C-1 -0.21 -0.552 -0.381 0 -0.381C0.552 -0.381 1 -0.21 1 0Z","size":7056,"angle":-45,"filled":true,"fill":"#fcd3d7","stroke":"#e5505c","strokeWidth":1,"opacity":1,"clip":true},"encoding":{"x":{"field":"x","type":"quantitative","scale":{"domain":[241,366],"nice":false,"zero":false},"axis":{"values":[260,320],"title":null}},"y":{"field":"y","type":"quantitative","scale":{"domain":[1.8,28.5],"nice":false,"zero":false},"axis":null}}},
 {"data":{"name":"pts"},"transform":[{"filter":"datum.r=='p8'&&datum.c=='p7'"}],"mark":{"type":"circle","size":24,"opacity":1,"clip":true},"encoding":{"x":{"field":"x","type":"quantitative","axis":{"values":[260,320],"title":null}},"y":{"field":"y","type":"quantitative","axis":null},"color":{"field":"g","type":"nominal","scale":{"domain":["k","b","r"],"range":["#220a0a","#3a55c8","#e6283c"]},"legend":null}}}
]},
{"width":59,"height":59,"resolve":{"scale":{"y":"independent"}},"layer":[
 {"data":{"name":"hist"},"transform":[{"filter":"datum.v=='p8'"}],"mark":{"type":"rect","fill":"#b9c8b7","stroke":"#3d4b3d","strokeWidth":1},"encoding":{"x":{"field":"b0","type":"quantitative","scale":{"domain":[1.8,28.5],"nice":false,"zero":false},"axis":{"values":[5,15,25],"labelFlush":false,"labelAlign":{"condition":{"test":"datum.value==25","value":"right"},"value":"center"},"title":null}},"x2":{"field":"b1"},"y":{"field":"n","type":"quantitative","scale":{"domain":[0,59]},"axis":null},"y2":{"datum":0}}},
 {"data":{"values":[{"name":"p8"}]},"mark":{"type":"text","align":"right","baseline":"top","dx":-2,"dy":3,"font":"Liberation Sans","fontSize":11,"color":"#333333"},"encoding":{"text":{"field":"name"},"x":{"datum":28.5,"type":"quantitative","axis":{"values":[5,15,25],"labelFlush":false,"labelAlign":{"condition":{"test":"datum.value==25","value":"right"},"value":"center"},"title":null}},"y":{"datum":28.5,"type":"quantitative","scale":{"domain":[1.8,28.5],"nice":false,"zero":false},"axis":null}}}
]}
]},
{"width":17,"height":192,"view":{"stroke":null,"fill":null},"data":{"name":"leg"},"mark":{"type":"rect"},
 "encoding":{
  "y":{"field":"lo","type":"quantitative","scale":{"domain":[-1,1.11],"nice":false,"zero":false},"axis":{"orient":"right","values":[-1,-0.8,-0.6,-0.4,-0.2,0,0.2,0.4,0.6,0.8,1],"format":".1f","labelAlign":"right","labelBaseline":"middle","labelPadding":24,"tickSize":4,"domain":false,"tickColor":{"condition":{"test":"datum.value>0","value":"#e89a9a"},"value":"#9aa0e0"},"title":"相関","titleAngle":0,"titleAlign":"left","titleBaseline":"middle","titleX":30,"titleY":105.5,"titleFont":"Noto Sans CJK JP","titleFontSize":10,"titleFontWeight":"normal","titleColor":"#333333"}},
  "y2":{"field":"hi"},
  "fill":{"field":"m","type":"quantitative","scale":{"type":"threshold","domain":[-0.8,-0.6,-0.4,-0.2,0,0.2,0.4,0.6,0.8],"range":["#2a3cff","#4a5cf0","#6c75e0","#8c94d4","#adb1c8","#c9adad","#d48282","#e05a5a","#f03434","#ff0f0f"]},"legend":null}
 }}
]
}
